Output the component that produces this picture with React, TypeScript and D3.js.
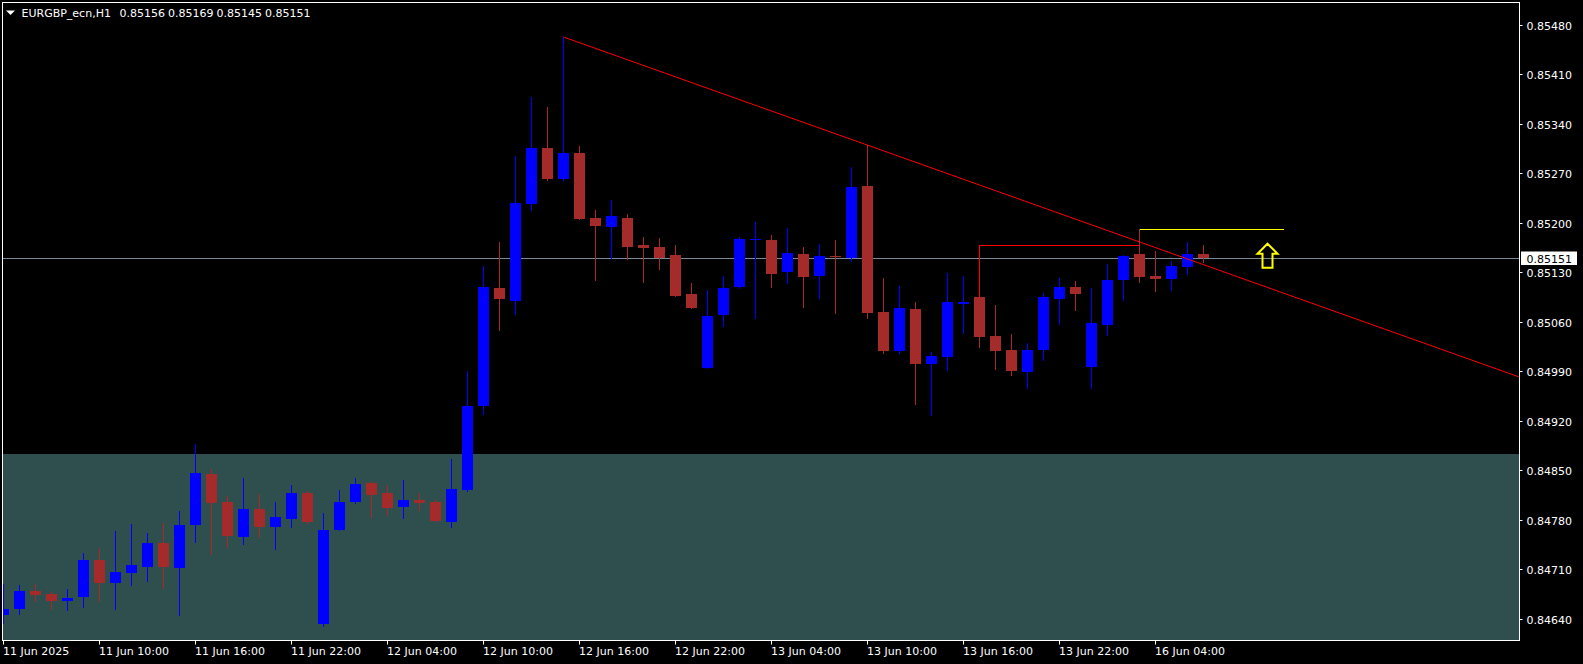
import React, { useEffect, useRef } from "react";
import * as d3 from "d3";

// ─── Data (EURGBP_ecn, H1) ────────────────────────────────────────────────────
const OPEN = [
  0.84645, 0.84654, 0.84679, 0.84675, 0.84665, 0.84671, 0.84723, 0.8469, 0.84705, 0.84713,
  0.84747, 0.84712, 0.84772, 0.84845, 0.84805, 0.84755, 0.84795, 0.8477, 0.84781, 0.84818,
  0.84632, 0.84765, 0.84805, 0.84832, 0.84818, 0.84798, 0.84808, 0.84805, 0.84777, 0.84822,
  0.84941, 0.85108, 0.85089, 0.85227, 0.85306, 0.85262, 0.85299, 0.85207, 0.85194, 0.85207,
  0.85169, 0.85166, 0.85155, 0.85099, 0.84995, 0.85069, 0.85109, 0.85176, 0.85176, 0.8513,
  0.85156, 0.85125, 0.85153, 0.8515, 0.85252, 0.85074, 0.85019, 0.85078, 0.85, 0.8501,
  0.85085, 0.85095, 0.8504, 0.8502, 0.84989, 0.8502, 0.85092, 0.85109, 0.84996, 0.85056,
  0.85119, 0.85156, 0.85125, 0.85121, 0.85138, 0.85156,
];
const HIGH = [
  0.84689, 0.84688, 0.84689, 0.84678, 0.84682, 0.84733, 0.8474, 0.84764, 0.84774, 0.84761,
  0.84775, 0.84792, 0.84887, 0.84852, 0.84813, 0.84839, 0.84816, 0.84805, 0.84829, 0.84821,
  0.8479, 0.84822, 0.84839, 0.84833, 0.84829, 0.84836, 0.84818, 0.84808, 0.84866, 0.8499,
  0.85139, 0.85173, 0.85295, 0.85378, 0.85364, 0.85463, 0.85309, 0.85218, 0.85232, 0.85213,
  0.8518, 0.85179, 0.85169, 0.85115, 0.85105, 0.85125, 0.8518, 0.85201, 0.85183, 0.85193,
  0.85166, 0.8517, 0.85176, 0.85279, 0.8531, 0.85122, 0.85111, 0.85088, 0.85017, 0.85129,
  0.85125, 0.85169, 0.85084, 0.85043, 0.8503, 0.85101, 0.85122, 0.85118, 0.85108, 0.85142,
  0.85155, 0.85191, 0.8516, 0.85146, 0.85173, 0.85169,
];
const LOW = [
  0.84634, 0.84647, 0.84665, 0.84654, 0.84652, 0.84657, 0.84665, 0.84654, 0.84688, 0.84693,
  0.84684, 0.84645, 0.84748, 0.84731, 0.84741, 0.84746, 0.84755, 0.84739, 0.8477, 0.84775,
  0.8463, 0.84765, 0.84804, 0.84784, 0.84787, 0.84782, 0.84794, 0.84778, 0.8477, 0.84821,
  0.8493, 0.85048, 0.85071, 0.85218, 0.85261, 0.85261, 0.85205, 0.85119, 0.8515, 0.85149,
  0.85116, 0.85135, 0.85097, 0.8508, 0.84995, 0.85054, 0.85108, 0.85065, 0.85109, 0.85115,
  0.85081, 0.85094, 0.85072, 0.85146, 0.85065, 0.85016, 0.85016, 0.84944, 0.84928, 0.84992,
  0.85044, 0.85024, 0.84993, 0.84985, 0.84966, 0.85006, 0.85057, 0.85077, 0.84966, 0.85041,
  0.85091, 0.85116, 0.85104, 0.85105, 0.85128, 0.85145,
];
const CLOSE = [
  0.84654, 0.84679, 0.84673, 0.84665, 0.84669, 0.84723, 0.8469, 0.84706, 0.84716, 0.84747,
  0.84713, 0.84772, 0.84846, 0.84804, 0.84757, 0.84795, 0.8477, 0.84784, 0.84818, 0.84777,
  0.84765, 0.84805, 0.8483, 0.84815, 0.84797, 0.84808, 0.84804, 0.84778, 0.84823, 0.84941,
  0.85109, 0.85092, 0.85228, 0.85306, 0.85262, 0.85299, 0.85205, 0.85196, 0.8521, 0.85166,
  0.85164, 0.8515, 0.85097, 0.8508, 0.85068, 0.85108, 0.85177, 0.85177, 0.85128, 0.85157,
  0.85123, 0.85153, 0.85152, 0.85251, 0.85072, 0.85019, 0.8508, 0.85, 0.85012, 0.85088,
  0.85088, 0.85038, 0.85019, 0.8499, 0.8502, 0.85095, 0.85109, 0.85099, 0.85058, 0.85119,
  0.85153, 0.85123, 0.85121, 0.85139, 0.85156, 0.85151,
];

const TIME_LABELS = [
  "11 Jun 2025", "11 Jun 10:00", "11 Jun 16:00", "11 Jun 22:00", "12 Jun 04:00",
  "12 Jun 10:00", "12 Jun 16:00", "12 Jun 22:00", "13 Jun 04:00", "13 Jun 10:00",
  "13 Jun 16:00", "13 Jun 22:00", "16 Jun 04:00",
];
const TIME_LABEL_STEP = 6; // bars between labels

const PRICE_TICKS = [
  0.8464, 0.8471, 0.8478, 0.8485, 0.8492, 0.8499, 0.8506, 0.8513, 0.852, 0.8527, 0.8534, 0.8541,
  0.8548,
];

const SYMBOL = "EURGBP_ecn,H1";
const LAST_OHLC = ["0.85156", "0.85169", "0.85145", "0.85151"];
const LAST_PRICE = 0.85151;

// drawn objects (bar index, price)
const TREND_ANCHORS: [number, number][] = [
  [35, 0.85463],
  [54, 0.8531],
];
const RED_LEVEL = { from: 61, to: 71, price: 0.85169, base: 0.85095 };
const YELLOW_LEVEL = { from: 71, to: 80, price: 0.85191 };
const ARROW = { bar: 79, price: 0.85172 };
const ZONE_TOP = 0.84873;

// ─── Design tokens ────────────────────────────────────────────────────────────
const W = 1583;
const H = 664;
const FRAME = { left: 2.5, top: 2.5, right: 1519.5, bottom: 640.5 };
const BULL = "#0000ff";
const BEAR = "#a52a2a";
const FG = "#ffffff";
const ZONE_FILL = "#2f4f4f";
const LAST_LINE = "#778899";
const FONT = "'DejaVu Sans', Verdana, sans-serif";
const FONT_SIZE = 11;

export default function App() {
  const svgRef = useRef<SVGSVGElement>(null);

  useEffect(() => {
    const node = svgRef.current;
    if (!node) return;
    const svg = d3.select(node);
    svg.selectAll("*").remove();

    // bar index -> candle centre, 16px per bar
    const x = d3.scaleLinear().domain([0, 1]).range([3.5, 19.5]);
    const y = d3.scaleLinear().domain([0.8464, 0.8548]).range([618.7, 25]);

    svg.append("rect").attr("width", W).attr("height", H).attr("fill", "#000");

    svg
      .append("clipPath")
      .attr("id", "plot")
      .append("rect")
      .attr("x", FRAME.left + 0.5)
      .attr("y", FRAME.top + 0.5)
      .attr("width", FRAME.right - FRAME.left - 1)
      .attr("height", FRAME.bottom - FRAME.top - 1);

    const g = svg.append("g").attr("clip-path", "url(#plot)");

    // ── Zone rectangle ──────────────────────────────────────────────────────
    g.append("rect")
      .attr("x", 0)
      .attr("y", Math.round(y(ZONE_TOP)))
      .attr("width", FRAME.right)
      .attr("height", H)
      .attr("fill", ZONE_FILL);

    // ── Last price line ─────────────────────────────────────────────────────
    const yLast = Math.round(y(LAST_PRICE)) + 0.5;
    g.append("line")
      .attr("x1", 0)
      .attr("x2", FRAME.right)
      .attr("y1", yLast)
      .attr("y2", yLast)
      .attr("stroke", LAST_LINE)
      .attr("stroke-width", 1);

    // ── Candles ─────────────────────────────────────────────────────────────
    const bars = OPEN.map((o, i) => ({ i, o, h: HIGH[i], l: LOW[i], c: CLOSE[i] }));
    const candle = g
      .selectAll("g.candle")
      .data(bars)
      .join("g")
      .attr("class", "candle")
      .attr("shape-rendering", "crispEdges");

    candle
      .append("line")
      .attr("x1", (d) => x(d.i))
      .attr("x2", (d) => x(d.i))
      .attr("y1", (d) => Math.round(y(d.h)))
      .attr("y2", (d) => Math.round(y(d.l)) + 1)
      .attr("stroke", (d) => (d.c >= d.o ? BULL : BEAR))
      .attr("stroke-width", 1);

    candle
      .append("rect")
      .attr("x", (d) => x(d.i) - 5.5)
      .attr("width", 11)
      .attr("y", (d) => Math.round(y(Math.max(d.o, d.c))))
      .attr("height", (d) =>
        Math.max(1, Math.round(y(Math.min(d.o, d.c))) - Math.round(y(Math.max(d.o, d.c)))),
      )
      .attr("fill", (d) => (d.c >= d.o ? BULL : BEAR));

    // ── Trend line (ray to the right) ───────────────────────────────────────
    const [[i1, p1], [i2, p2]] = TREND_ANCHORS;
    const slope = (p2 - p1) / (i2 - i1);
    const iEnd = x.invert(FRAME.right);
    g.append("line")
      .attr("x1", x(i1))
      .attr("y1", y(p1))
      .attr("x2", x(iEnd))
      .attr("y2", y(p1 + slope * (iEnd - i1)))
      .attr("stroke", "#ff0000")
      .attr("stroke-width", 1);

    // ── Horizontal levels ───────────────────────────────────────────────────
    const yRed = Math.round(y(RED_LEVEL.price)) + 0.5;
    g.append("path")
      .attr(
        "d",
        `M${x(RED_LEVEL.from)},${Math.round(y(RED_LEVEL.base))}V${yRed}H${x(RED_LEVEL.to)}`,
      )
      .attr("fill", "none")
      .attr("stroke", "#ff0000")
      .attr("shape-rendering", "crispEdges");

    const yYel = Math.round(y(YELLOW_LEVEL.price)) + 0.5;
    g.append("line")
      .attr("x1", x(YELLOW_LEVEL.from))
      .attr("x2", x(YELLOW_LEVEL.to))
      .attr("y1", yYel)
      .attr("y2", yYel)
      .attr("stroke", "#ffff00")
      .attr("shape-rendering", "crispEdges");

    // ── Up arrow ────────────────────────────────────────────────────────────
    const ax = x(ARROW.bar);
    const ay = y(ARROW.price);
    g.append("path")
      .attr(
        "d",
        `M${ax},${ay + 1} L${ax + 10},${ay + 11} L${ax + 5},${ay + 11} L${ax + 5},${ay + 25} ` +
          `L${ax - 5},${ay + 25} L${ax - 5},${ay + 11} L${ax - 10},${ay + 11} Z`,
      )
      .attr("fill", "none")
      .attr("stroke", "#ffff00")
      .attr("stroke-width", 2)
      .attr("stroke-linejoin", "miter");

    // ── Frame ───────────────────────────────────────────────────────────────
    svg
      .append("rect")
      .attr("x", FRAME.left)
      .attr("y", FRAME.top)
      .attr("width", FRAME.right - FRAME.left)
      .attr("height", FRAME.bottom - FRAME.top)
      .attr("fill", "none")
      .attr("stroke", FG)
      .attr("stroke-width", 1);

    // ── Price axis ──────────────────────────────────────────────────────────
    const pa = svg.append("g").attr("font-family", FONT).attr("font-size", FONT_SIZE);
    PRICE_TICKS.forEach((p) => {
      const yy = Math.round(y(p)) + 0.5;
      pa.append("line")
        .attr("x1", FRAME.right)
        .attr("x2", FRAME.right + 3)
        .attr("y1", yy)
        .attr("y2", yy)
        .attr("stroke", FG);
      pa.append("text")
        .attr("x", 1526.5)
        .attr("y", yy + 4)
        .attr("fill", FG)
        .text(p.toFixed(5));
    });

    pa.append("rect")
      .attr("x", 1521)
      .attr("y", yLast - 7)
      .attr("width", 56)
      .attr("height", 13.5)
      .attr("fill", "#ffffff");
    pa.append("text")
      .attr("x", 1526.5)
      .attr("y", yLast + 4)
      .attr("fill", "#000")
      .text(LAST_PRICE.toFixed(5));

    // ── Time axis ───────────────────────────────────────────────────────────
    const ta = svg.append("g").attr("font-family", FONT).attr("font-size", FONT_SIZE);
    TIME_LABELS.forEach((lab, k) => {
      const xx = x(k * TIME_LABEL_STEP);
      ta.append("line")
        .attr("x1", xx)
        .attr("x2", xx)
        .attr("y1", FRAME.bottom)
        .attr("y2", FRAME.bottom + 4)
        .attr("stroke", FG);
      ta.append("text")
        .attr("x", xx - 0.5)
        .attr("y", 655)
        .attr("fill", FG)
        .text(lab);
    });

    // ── Title ───────────────────────────────────────────────────────────────
    svg.append("path").attr("d", "M6,10.5H15L10.5,15Z").attr("fill", FG);
    const title = svg
      .append("g")
      .attr("font-family", FONT)
      .attr("font-size", FONT_SIZE)
      .attr("fill", FG);
    title.append("text").attr("x", 21.5).attr("y", 17).text(SYMBOL);
    LAST_OHLC.forEach((v, k) => {
      title
        .append("text")
        .attr("x", 119.5 + k * 48.5)
        .attr("y", 17)
        .text(v);
    });
  }, []);

  return (
    <svg
      ref={svgRef}
      width={W}
      height={H}
      style={{ position: "absolute", left: 0, top: 0, display: "block" }}
    />
  );
}
